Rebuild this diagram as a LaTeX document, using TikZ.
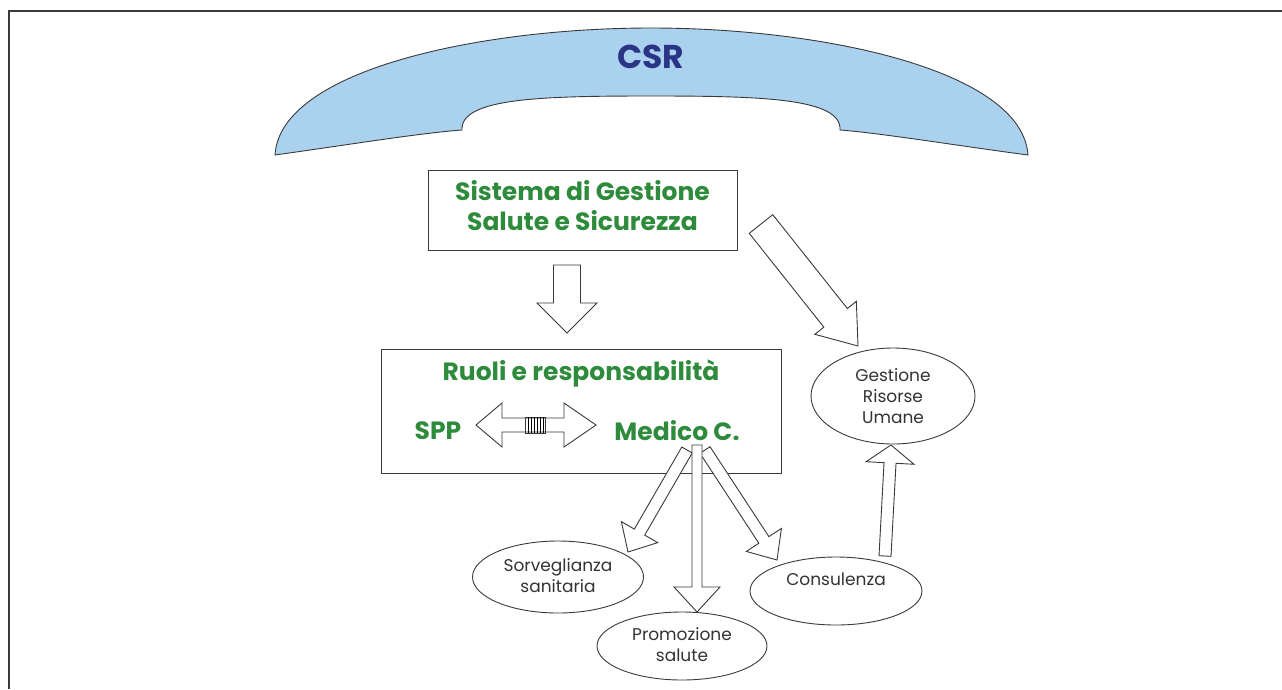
\documentclass[tikz,border=0pt]{standalone}
\usepackage{fontspec}
\setmainfont{Poppins}
\usetikzlibrary{calc,shapes.geometric}
\definecolor{csrfill}{HTML}{AAD2EE}
\definecolor{csrtext}{HTML}{2B3585}
\definecolor{greentxt}{HTML}{2E8B3C}
\definecolor{linegray}{HTML}{3A3A3A}
\definecolor{txtgray}{HTML}{333333}
\tikzset{
  barrowst/.style={draw=linegray, line width=0.9pt, fill=white, line join=miter},
  boxst/.style={draw=linegray, line width=1pt, rectangle, fill=white},
  ellst/.style={draw=linegray, line width=0.9pt, ellipse, fill=white, inner sep=0pt},
  greenst/.style={text=greentxt, font=\fontsize{25}{30}\selectfont\bfseries, align=center},
  smallst/.style={text=txtgray, font=\fontsize{17}{21}\selectfont, align=center}
}
% #1 start, #2 tip, #3 half shaft width, #4 half head width, #5 head length
\newcommand{\blockarr}[5]{%
  \coordinate (ba-h) at ($(#2)!#5!(#1)$);
  \draw[barrowst] ($(#1)!#3!90:(#2)$) -- ($(ba-h)!#3!-90:(#1)$) -- ($(ba-h)!#4!-90:(#1)$) -- (#2)
     -- ($(ba-h)!#4!90:(#1)$) -- ($(ba-h)!#3!90:(#1)$) -- ($(#1)!#3!-90:(#2)$) -- cycle;}
\begin{document}
\begin{tikzpicture}[x=1pt,y=-1pt]
\useasboundingbox (0,0) rectangle (1282,689);
\fill[white] (0,0) rectangle (1282,689);
% frame
\draw[linegray, line width=2pt] (9,689) -- (9,11) -- (1282,11);

% CSR arch
\draw[fill=csrfill, draw=linegray, line width=0.9pt]
  (275,155) .. controls (280,70) and (480,28) .. (651,28)
  .. controls (822,28) and (1022,70) .. (1028,155)
  .. controls (960,146) and (880,133) .. (840,130)
  .. controls (842,98) and (760,96) .. (651,96)
  .. controls (542,96) and (460,98) .. (462,130)
  .. controls (420,133) and (340,146) .. (275,155) -- cycle;
\node[text=csrtext, font=\fontsize{33}{36}\selectfont\bfseries] (csr) at (651,57) {CSR};

% boxes
\node[boxst, minimum width=309pt, minimum height=80pt] (sgs) at (582.5,210) {};
\node[greenst] (sgstxt) at (582.5,206) {Sistema di Gestione\\Salute e Sicurezza};

\node[boxst, minimum width=400pt, minimum height=124pt] (ruoli) at (581,411) {};
\node[greenst] (ruolitxt) at (581,373) {Ruoli e responsabilità};
\node[greenst] (spp) at (438,431) {SPP};
\node[greenst] (medico) at (677,431) {Medico C.};

% ellipses
\node[ellst, minimum width=164pt, minimum height=96pt] (gru) at (893,396) {};
\node[smallst] at (893,396) {Gestione\\Risorse\\Umane};
\node[ellst, minimum width=171pt, minimum height=72pt] (sorv) at (558,577) {};
\node[smallst] at (558,576) {Sorveglianza\\sanitaria};
\node[ellst, minimum width=170pt, minimum height=68pt] (prom) at (682,646) {};
\node[smallst] at (682,645) {Promozione\\salute};
\node[ellst, minimum width=172pt, minimum height=68pt] (cons) at (836,591) {};
\node[smallst] at (836,579) {Consulenza};

% arrow end points
\coordinate (a1s) at (567,265);
\coordinate (a1t) at (567,333);
\coordinate (a2s) at (761,224);
\coordinate (a2t) at (858,346);
\coordinate (m1s) at (687,450);
\coordinate (m1t) at (628,552);
\coordinate (m2s) at (697,445);
\coordinate (m2t) at (697,612);
\coordinate (m3s) at (705,450);
\coordinate (m3t) at (777,560);
\coordinate (ups) at (885,556);
\coordinate (upt) at (891,445);

\blockarr{a1s}{a1t}{13.5pt}{30pt}{30pt}
\blockarr{a2s}{a2t}{15pt}{26.5pt}{36pt}
\blockarr{m1s}{m1t}{6pt}{21pt}{23pt}
\blockarr{m3s}{m3t}{6pt}{21pt}{24pt}
\blockarr{m2s}{m2t}{5pt}{23pt}{25pt}
\blockarr{ups}{upt}{6pt}{24pt}{18pt}

% double arrow SPP <-> Medico C.
\coordinate (dbl) at (538,425);
\begin{scope}[shift={(dbl)}]
\draw[barrowst] (-62,0) -- (-36,-22) -- (-36,-7) -- (26,-7) -- (26,-22) -- (58,0)
  -- (26,22) -- (26,7) -- (-36,7) -- (-36,22) -- cycle;
\draw[linegray, line width=0.9pt] (-13,-8) rectangle (7,8);
\foreach \x in {-10,-7,-4,-1,2,5}
  \draw[black, line width=1pt] (\x,-8) -- (\x,8);
\end{scope}
\end{tikzpicture}
\end{document}
